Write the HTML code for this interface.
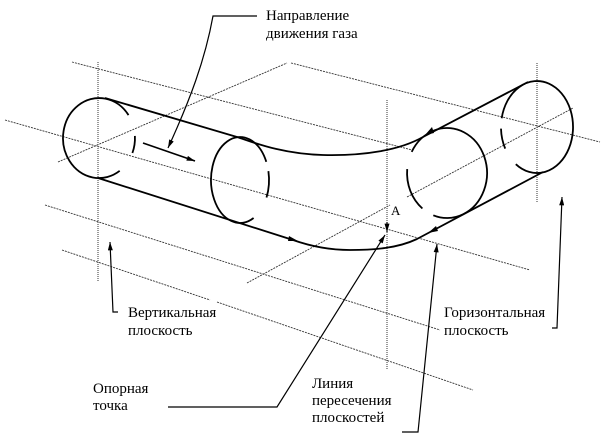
<!DOCTYPE html>
<html><head><meta charset="utf-8"><style>
html,body{margin:0;padding:0;background:#fff;}
svg{display:block;}
text{font-family:"Liberation Serif","Noto Serif CJK SC",serif;font-size:15px;fill:#000;}
</style></head><body>
<svg width="604" height="439" viewBox="0 0 604 439" xmlns="http://www.w3.org/2000/svg">
<defs>
<marker id="ah" viewBox="0 0 10 6" refX="10" refY="3" markerWidth="9" markerHeight="5" orient="auto" markerUnits="userSpaceOnUse"><path d="M0,0 L10,3 L0,6 z" fill="#000"/></marker>
</defs>
<g stroke="#333" stroke-width="0.9" stroke-dasharray="2 1" fill="none">
<line x1="58" y1="162" x2="287" y2="63"/>
<line x1="291" y1="63" x2="600" y2="142"/>
<line x1="72" y1="62" x2="412" y2="150"/>
<line x1="5" y1="120" x2="530" y2="270"/>
<line x1="45" y1="205" x2="440" y2="330"/>
<line x1="62" y1="250" x2="210" y2="300"/>
<line x1="217" y1="302" x2="473" y2="390"/>
<line x1="247" y1="283" x2="390" y2="205"/>
<line x1="407" y1="197" x2="573" y2="108"/>
</g>
<g stroke="#333" stroke-width="1" stroke-dasharray="1 1" fill="none">
<line x1="98" y1="62" x2="98" y2="282"/>
<line x1="387" y1="100" x2="387" y2="370"/>
<line x1="537" y1="63" x2="537" y2="203"/>
</g>
<g stroke="#000" stroke-width="1.8" fill="none">
<path d="M119.7,170.8 A36,40 0 1 1 128.5,115.1"/>
<path d="M134.9,135.9 A36,40 0 0 1 132.4,153"/>
<path d="M253.6,218 A29,43 0 1 1 266.3,161.8"/>
<path d="M268.4,171.1 A29,43 0 0 1 266.5,197.5"/>
<path d="M411.7,151.9 A40,45 0 1 1 433.3,215.3"/>
<path d="M422.4,208.5 A40,45 0 0 1 407.2,169.1"/>
<path d="M501.7,118.2 A36,46 0 1 1 515.8,164.2"/>
<path d="M505.2,148.6 A36,46 0 0 1 501,128.6"/>
<path d="M105,98 L237,137 C250,141 280,154 323,155 C365,156 400,150 423,137 L528,82"/>
<path d="M98,178 L293,240 C310,246 330,250 350,250 C375,250 398,248 417,239 L543,172"/>
</g>
<g fill="#000">
<path d="M298,241 L289,236 L288,241 z"/>
<path d="M428,233 L436,226 L438,231 z"/>
<path d="M425,135 L432,127 L434,133 z"/>
</g>
<g stroke="#000" stroke-width="1.7" fill="none">
<line x1="143" y1="143" x2="195" y2="161" marker-end="url(#ah)"/>
</g>
<g stroke="#000" stroke-width="1.2" fill="none">
<path d="M257,16 L213,16 C205,60 190,100 168,148" marker-end="url(#ah)"/>
<path d="M118,312 L113,312 L110,242" marker-end="url(#ah)"/>
<path d="M168,407 L277,407 L385,235" marker-end="url(#ah)"/>
<path d="M402,432 L418,432 L437,244" marker-end="url(#ah)"/>
<path d="M552,328 L557,328 L562,197" marker-end="url(#ah)"/>
<path d="M387,222 L387,232" marker-end="url(#ah)"/>
</g>
<text x="266" y="20">Направление</text>
<text x="266" y="38">движения газа</text>
<text x="128" y="317">Вертикальная</text>
<text x="128" y="335">плоскость</text>
<text x="93" y="393">Опорная</text>
<text x="93" y="410">точка</text>
<text x="312" y="388">Линия</text>
<text x="312" y="405">пересечения</text>
<text x="312" y="422">плоскостей</text>
<text x="444" y="317">Горизонтальная</text>
<text x="444" y="335">плоскость</text>
<text x="391" y="215" style="font-size:13px">A</text>
</svg>
</body></html>
